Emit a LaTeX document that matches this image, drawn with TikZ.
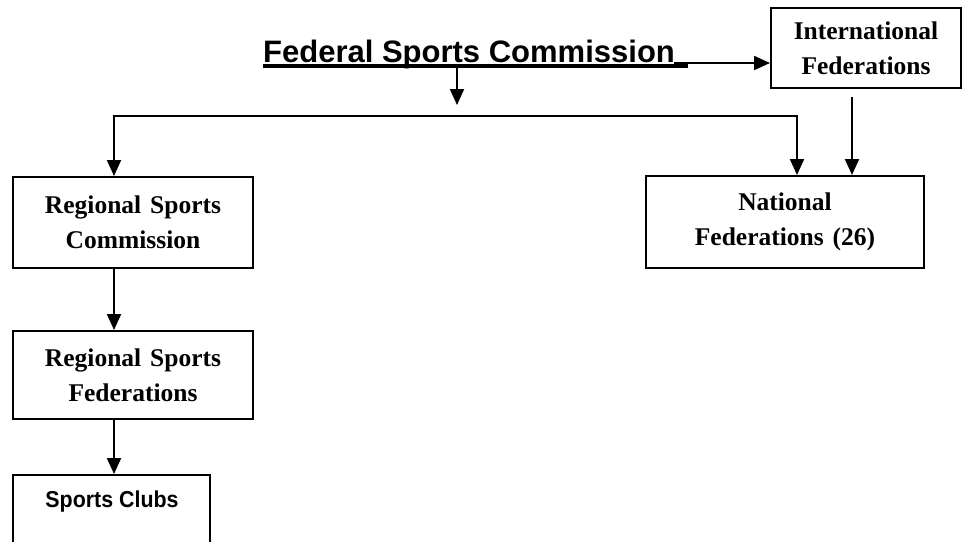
\documentclass[tikz,border=0pt]{standalone}
\usepackage{fontspec}
\usetikzlibrary{arrows.meta}
\newfontfamily\tnrfont[WordSpace=1.4]{Liberation Serif}
\newfontfamily\titlefont{Liberation Sans}
\newfontfamily\clubfont[FakeStretch=0.93]{Liberation Sans}
\tikzset{
  orgbox/.style={draw, line width=2pt, inner sep=0pt, align=center,
     font=\tnrfont\bfseries\fontsize{25.5}{35}\selectfont},
  arr/.style={line width=2pt, -{Triangle[length=16pt,width=14pt]}},
  plain/.style={line width=2pt}
}
\begin{document}
\begin{tikzpicture}[x=1pt,y=-1pt]
\useasboundingbox (0,0) rectangle (963,541);
\clip (0,0) rectangle (963,541);
\fill[white] (0,0) rectangle (963,541);
% title
\node[inner sep=0pt, anchor=base west, font=\titlefont\bfseries\fontsize{31}{34}\selectfont] (title) at (263,62) {Federal Sports Commission};
\coordinate (ulstart) at (263,65.5);
\coordinate (ulend) at (688,65.5);
\draw[line width=4pt] (ulstart) -- (ulend);
% boxes
\node[orgbox, minimum width=190pt, minimum height=80pt] (intl) at (866,48) {International\\Federations};
\node[orgbox, minimum width=278pt, minimum height=92pt] (nf) at (785,222) {National\\Federations (26)};
\node[orgbox, minimum width=240pt, minimum height=91pt] (rsc) at (133,222.5) {Regional Sports\\Commission};
\node[orgbox, minimum width=240pt, minimum height=88pt] (rsf) at (133,375) {Regional Sports\\Federations};
\node[draw, line width=2pt, minimum width=197pt, minimum height=110pt, inner sep=0pt] (sc) at (111.5,530) {};
\node[inner sep=0pt, anchor=base, font=\clubfont\bfseries\fontsize{23}{26}\selectfont] (sctext) at (112,507) {Sports Clubs};
% connectors
\coordinate (tstart) at (674,63);
\draw[arr] (tstart) -- (intl.west |- tstart);
\coordinate (dtop) at (457,66);
\coordinate (dend) at (457,105);
\draw[arr] (dtop) -- (dend);
\coordinate (hl) at (114,116);
\coordinate (hr) at (797,116);
\draw[plain] ([xshift=-1pt]hl) -- ([xshift=1pt]hr);
\draw[arr] (hl) -- (hl |- rsc.north);
\draw[arr] (hr) -- (hr |- nf.north);
\coordinate (istart) at (852,97);
\draw[arr] (istart) -- (istart |- nf.north);
\draw[arr] (hl |- rsc.south) -- (hl |- rsf.north);
\draw[arr] (hl |- rsf.south) -- (hl |- sc.north);
\end{tikzpicture}
\end{document}
